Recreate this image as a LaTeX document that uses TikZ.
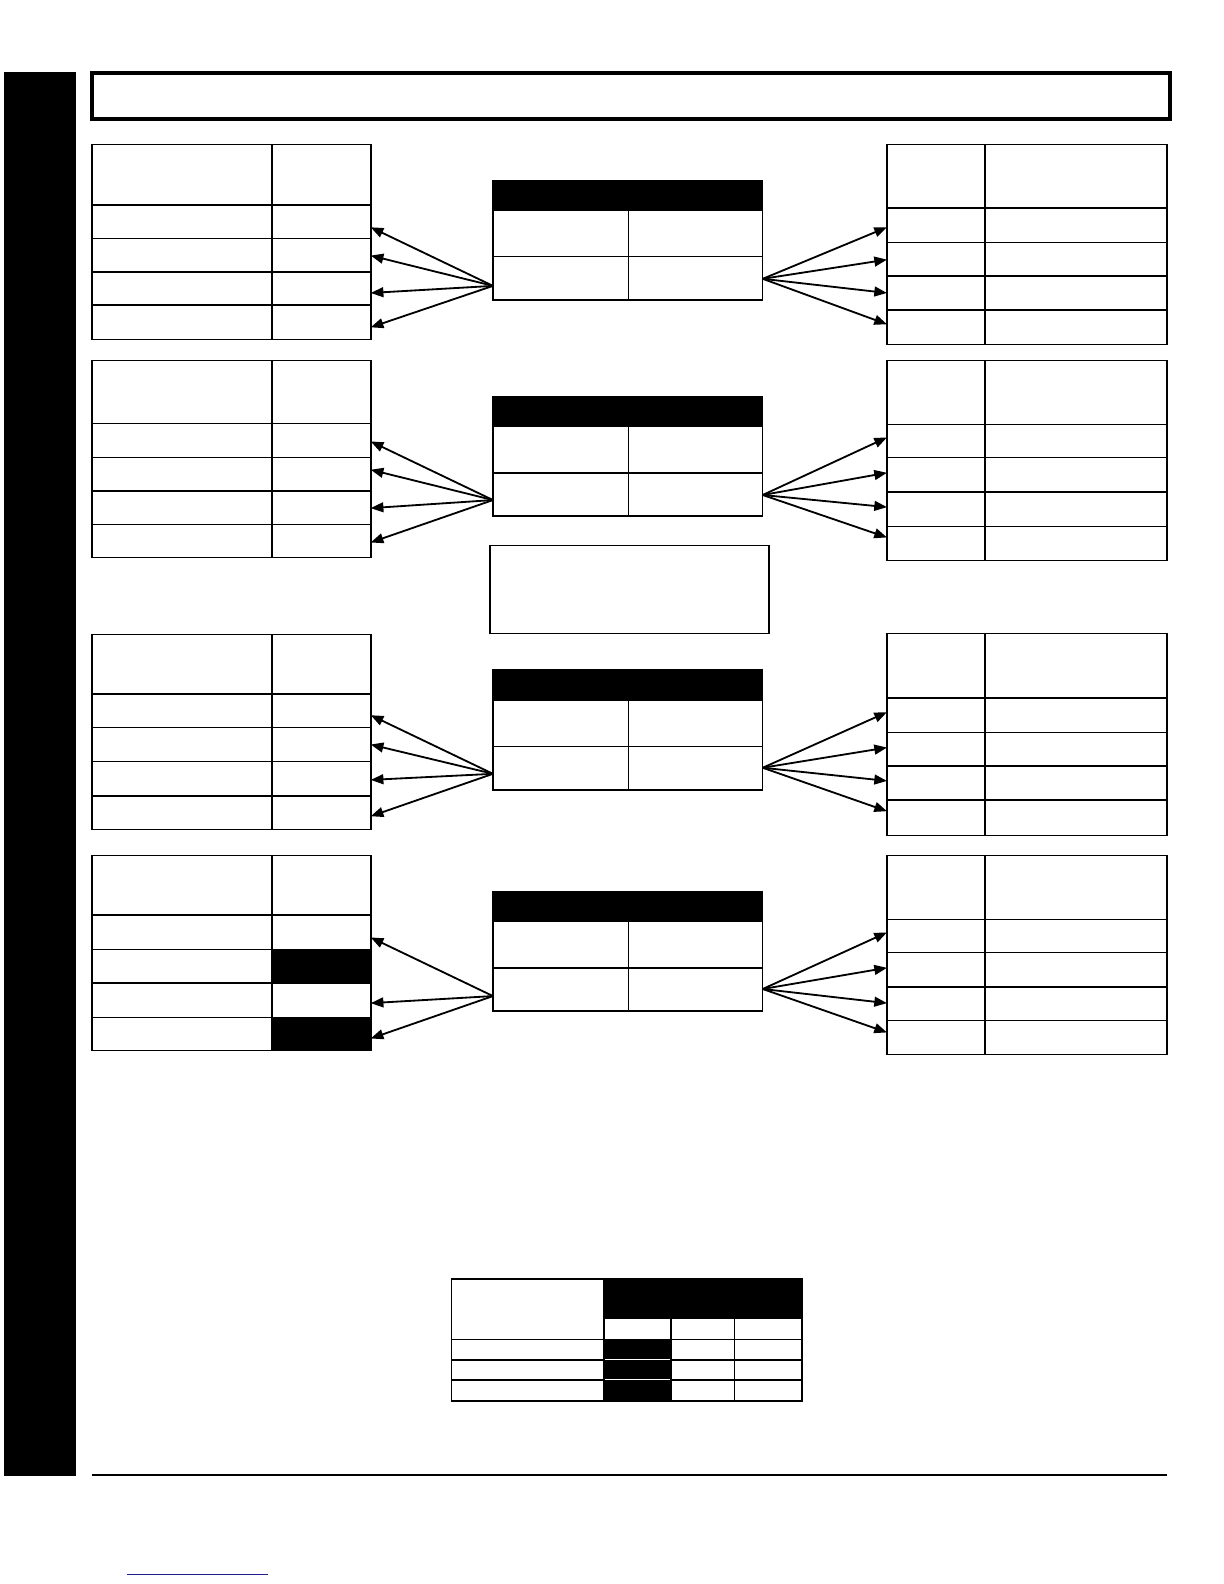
\documentclass[tikz,border=0pt]{standalone}
\usetikzlibrary{arrows.meta}

\tikzset{
  tbl/.style={line width=1.1pt},
  midrule/.style={line width=1.6pt},
  ptr/.style={line width=1.3pt, -{Triangle[length=9pt, width=7pt]}},
}
\definecolor{linkblue}{RGB}{30,30,140}

\begin{document}
\begin{tikzpicture}[x=0.025255cm, y=-0.025255cm]
  \useasboundingbox (0,0) rectangle (1211.6,1568);

  % side bar and title frame
  \fill (4,71) rectangle (75,1461);
  \draw [line width=2.8pt] (91,72) rectangle (1158,118);

  % black cells of the last left table
  \fill (269,940) rectangle (367,973);
  \fill (269,1007) rectangle (367,1040);

  % left tables
  \foreach \ya/\yb/\yc/\yd/\ye/\yf in {143/203/236/269/302/336, 357/419/453/486/519/552, 628/687/720/754/788/821, 847/906/940/973/1007/1040} {
    \draw [tbl] (91,\ya) rectangle (367,\yf);
    \draw [tbl] (91,\yb) -- (367,\yb) (91,\yc) -- (367,\yc) (91,\yd) -- (367,\yd) (91,\ye) -- (367,\ye);
    \draw [midrule] (269,\ya) -- (269,\yf);
  }

  % right tables
  \foreach \ya/\yb/\yc/\yd/\ye/\yf in {143/206/240/273/307/341, 357/420/453/487/521/555, 627/691/725/758/792/827, 847/910/943/977/1010/1044} {
    \draw [tbl] (878,\ya) rectangle (1155,\yf);
    \draw [tbl] (878,\yb) -- (1155,\yb) (878,\yc) -- (1155,\yc) (878,\yd) -- (1155,\yd) (878,\ye) -- (1155,\ye);
    \draw [tbl] (975,\ya) -- (975,\yf);
  }

  % centre tables
  \foreach \ya/\yb/\yc/\yd in {179/209/254/297, 393/423/468/511, 663/694/739/782, 883/913/958/1001} {
    \fill (488,\ya) rectangle (755,\yb);
    \draw [tbl] (488,\ya) rectangle (755,\yd);
    \draw [tbl] (488,\yc) -- (755,\yc) (622,\yb) -- (622,\yd);
  }

  % note box
  \draw [tbl] (485,540) rectangle (761,627);

  % arrows to the left
  \foreach \g/\sy/\ta/\tb/\tc/\td in {1/283/225/253/290/324, 2/495/437/465/503/537, 3/766/708/737/772/808} {
    \coordinate (srcL\g) at (488,\sy);
    \coordinate (tgtL\g a) at (367,\ta);
    \coordinate (tgtL\g b) at (367,\tb);
    \coordinate (tgtL\g c) at (367,\tc);
    \coordinate (tgtL\g d) at (367,\td);
    \draw [ptr] (srcL\g) -- (tgtL\g a);
    \draw [ptr] (srcL\g) -- (tgtL\g b);
    \draw [ptr] (srcL\g) -- (tgtL\g c);
    \draw [ptr] (srcL\g) -- (tgtL\g d);
  }
  \coordinate (srcL4) at (488,986);
  \coordinate (tgtL4a) at (367,928);
  \coordinate (tgtL4c) at (367,993);
  \coordinate (tgtL4d) at (367,1028);
  \draw [ptr] (srcL4) -- (tgtL4a);
  \draw [ptr] (srcL4) -- (tgtL4c);
  \draw [ptr] (srcL4) -- (tgtL4d);

  % arrows to the right
  \foreach \g/\sy/\ta/\tb/\tc/\td in {1/276/225/257/290/321, 2/490/433/468/502/532, 3/760/705/740/773/803, 4/979/923/958/993/1022} {
    \coordinate (srcR\g) at (755,\sy);
    \coordinate (tgtR\g a) at (878,\ta);
    \coordinate (tgtR\g b) at (878,\tb);
    \coordinate (tgtR\g c) at (878,\tc);
    \coordinate (tgtR\g d) at (878,\td);
    \draw [ptr] (srcR\g) -- (tgtR\g a);
    \draw [ptr] (srcR\g) -- (tgtR\g b);
    \draw [ptr] (srcR\g) -- (tgtR\g c);
    \draw [ptr] (srcR\g) -- (tgtR\g d);
  }

  % bottom table
  \fill (598,1266) rectangle (794,1305);
  \fill (598,1326) rectangle (664,1387);
  \draw [tbl] (447,1266) rectangle (794,1387);
  \draw [tbl] (447,1326) -- (794,1326) (447,1346) -- (794,1346) (447,1366) -- (794,1366);
  \draw [tbl] (598,1305) -- (794,1305);
  \draw [tbl] (598,1266) -- (598,1387) (664,1305) -- (664,1387) (727,1305) -- (727,1387);
  \draw [white, line width=0.7pt] (599,1346) -- (663,1346) (599,1366) -- (663,1366);

  % footer rule and link
  \draw [line width=1.5pt] (91,1460) -- (1155,1460);
  \draw [linkblue, line width=0.7pt] (126,1559) -- (265,1559);
\end{tikzpicture}
\end{document}
